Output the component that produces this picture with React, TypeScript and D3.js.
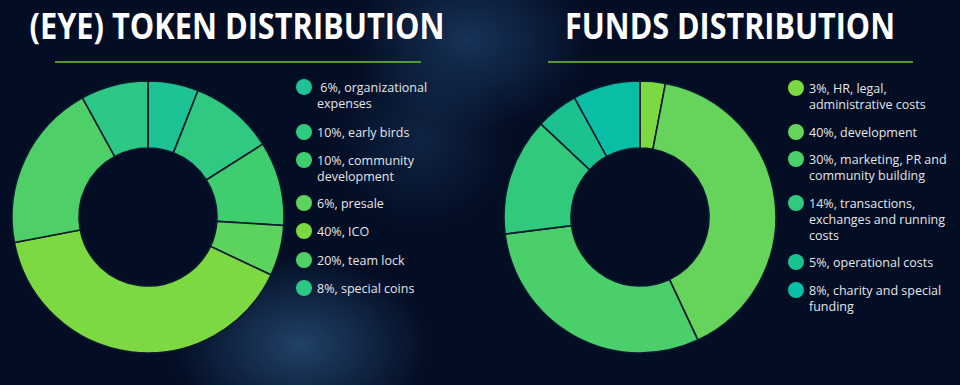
import React, { useEffect, useRef } from "react";
import * as d3 from "d3";

// left chart: (EYE) token distribution
const tokenLabels = [
  [" 6%, organizational", "expenses"],
  ["10%, early birds"],
  ["10%, community", "development"],
  ["6%, presale"],
  ["40%, ICO"],
  ["20%, team lock"],
  ["8%, special coins"],
];
const tokenValues = [6, 10, 10, 6, 40, 20, 8];
const tokenColors = ["#1dc395", "#30c981", "#3fcd70", "#5cd35c", "#7dd942", "#4ecf67", "#2dc886"];
const tokenDotY = [87, 132, 160, 203, 231, 260, 288];

// right chart: funds distribution
const fundLabels = [
  ["3%, HR, legal,", "administrative costs"],
  ["40%, development"],
  ["30%, marketing, PR and", "community building"],
  ["14%, transactions,", "exchanges and running", "costs"],
  ["5%, operational costs"],
  ["8%, charity and special", "funding"],
];
const fundValues = [3, 40, 30, 14, 5, 8];
const fundColors = ["#7dd942", "#66d45a", "#4bcf6b", "#31c97b", "#1bc290", "#08bfa6"];
const fundDotY = [88, 132, 159, 203, 262, 290];

const W = 960;
const H = 385;

export default function App() {
  const ref = useRef<SVGSVGElement>(null);

  useEffect(() => {
    const svg = d3.select(ref.current);
    svg.selectAll("*").remove();

    const defs = svg.append("defs");
    const g1 = defs.append("radialGradient").attr("id", "glow1").attr("cx", "0.5").attr("cy", "0.5").attr("r", "0.5");
    g1.append("stop").attr("offset", "0%").attr("stop-color", "#24476f").attr("stop-opacity", 0.9);
    g1.append("stop").attr("offset", "100%").attr("stop-color", "#24476f").attr("stop-opacity", 0);
    const g2 = defs.append("radialGradient").attr("id", "glow2").attr("cx", "0.5").attr("cy", "0.5").attr("r", "0.5");
    g2.append("stop").attr("offset", "0%").attr("stop-color", "#1c3c64").attr("stop-opacity", 0.8);
    g2.append("stop").attr("offset", "100%").attr("stop-color", "#1c3c64").attr("stop-opacity", 0);

    // background
    svg.append("rect").attr("width", W).attr("height", H).attr("fill", "#030d24");
    svg.append("ellipse").attr("cx", 300).attr("cy", 345).attr("rx", 130).attr("ry", 90).attr("fill", "url(#glow1)");
    svg.append("ellipse").attr("cx", 470).attr("cy", 40).attr("rx", 120).attr("ry", 90).attr("fill", "url(#glow2)");
    svg.append("ellipse").attr("cx", 420).attr("cy", 140).attr("rx", 90).attr("ry", 90).attr("fill", "url(#glow2)").attr("opacity", 0.6);

    const drawPanel = (
      title: string,
      titleX: number,
      titleLen: number,
      lineX: [number, number],
      cx: number,
      values: number[],
      colors: string[],
      labels: string[][],
      dotX: number,
      dotY: number[]
    ) => {
      svg.append("text")
        .attr("x", titleX - titleLen / 2)
        .attr("y", 39)
        .attr("font-family", "'Open Sans', sans-serif")
        .attr("font-weight", 700)
        .attr("font-size", 35)
        .attr("textLength", titleLen)
        .attr("lengthAdjust", "spacingAndGlyphs")
        .attr("fill", "#ffffff")
        .text(title);

      svg.append("line")
        .attr("x1", lineX[0]).attr("x2", lineX[1])
        .attr("y1", 62).attr("y2", 62)
        .attr("stroke", "#6cc534").attr("stroke-width", 1.5);

      const pie = d3.pie<number>().sort(null).value(d => d);
      const arc = d3.arc<d3.PieArcDatum<number>>().innerRadius(69).outerRadius(136);
      const g = svg.append("g").attr("transform", `translate(${cx}, 217)`);
      g.selectAll("path")
        .data(pie(values))
        .join("path")
        .attr("d", arc)
        .attr("fill", (d, i) => colors[i])
        .attr("stroke", "#0b1a2c")
        .attr("stroke-width", 1.6);

      const leg = svg.append("g");
      labels.forEach((lines, i) => {
        leg.append("circle")
          .attr("cx", dotX).attr("cy", dotY[i]).attr("r", 8)
          .attr("fill", colors[i]);
        const t = leg.append("text")
          .attr("x", dotX + 13)
          .attr("y", dotY[i] + 5)
          .attr("font-family", "'Open Sans', sans-serif")
          .attr("font-size", 12.5)
          .attr("fill", "#e4e6ea");
        lines.forEach((ln, j) => {
          t.append("tspan")
            .attr("x", dotX + 13)
            .attr("dy", j === 0 ? 0 : 16)
            .attr("xml:space", "preserve")
            .text(ln);
        });
      });
    };

    drawPanel("(EYE) TOKEN DISTRIBUTION", 237, 415, [55, 421], 148, tokenValues, tokenColors, tokenLabels, 304, tokenDotY);
    drawPanel("FUNDS DISTRIBUTION", 730, 330, [548, 913], 640, fundValues, fundColors, fundLabels, 796, fundDotY);
  }, []);

  return (
    <svg ref={ref} width={W} height={H} style={{ position: "absolute", left: 0, top: 0, display: "block" }} />
  );
}
